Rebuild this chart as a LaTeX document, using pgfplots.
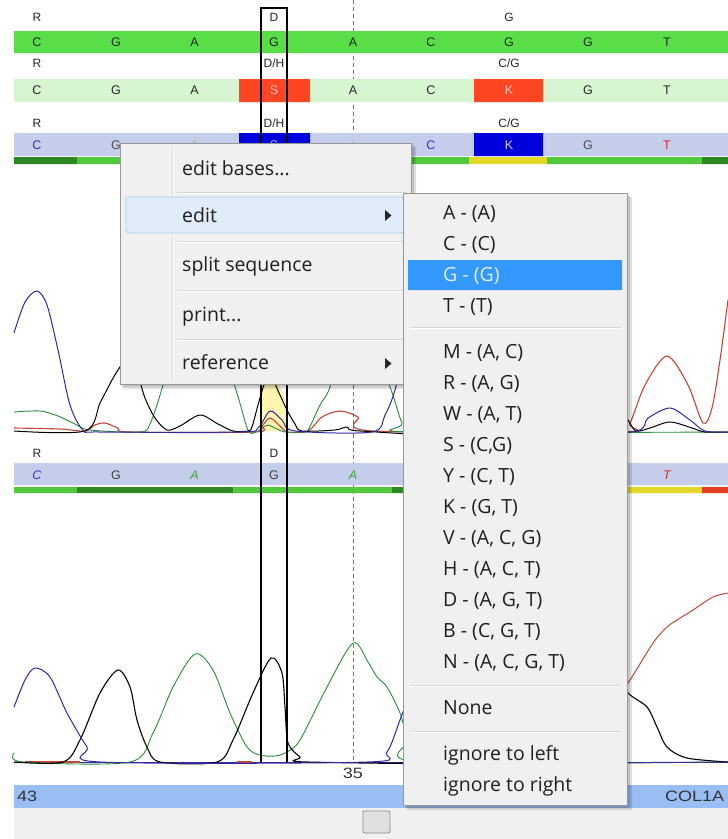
\documentclass[border=0pt]{standalone}
\usepackage{pgfplots}
\pgfplotsset{compat=1.18}
\usepackage{fontspec}
\setmainfont{Open Sans}
\newfontfamily\arial{Liberation Sans}
\newfontfamily\arialw[FakeStretch=1.2]{Liberation Sans}
\definecolor{bgreen}{RGB}{90,222,72}
\definecolor{lgreen}{RGB}{214,245,208}
\definecolor{lav}{RGB}{196,205,234}
\definecolor{redbox}{RGB}{255,70,34}
\definecolor{bluebox}{RGB}{0,0,220}
\definecolor{qdark}{RGB}{45,135,35}
\definecolor{qlight}{RGB}{82,200,60}
\definecolor{qyel}{RGB}{226,216,40}
\definecolor{qred}{RGB}{228,60,30}
\definecolor{barblue}{RGB}{152,190,243}
\definecolor{wingray}{RGB}{240,240,240}
\definecolor{menubg}{RGB}{240,240,240}
\definecolor{menuborder}{RGB}{151,151,151}
\definecolor{sepc}{RGB}{215,215,215}
\definecolor{hilite}{RGB}{51,153,255}
\definecolor{edithl}{RGB}{224,236,250}
\definecolor{edithlb}{RGB}{170,204,240}
\definecolor{trblue}{RGB}{50,40,160}
\definecolor{trgreen}{RGB}{40,140,60}
\definecolor{trred}{RGB}{195,70,60}
\definecolor{hlyel}{RGB}{255,244,176}
\definecolor{txtblue}{RGB}{50,50,200}
\definecolor{txtgreen}{RGB}{60,165,60}
\definecolor{txtred}{RGB}{220,40,40}
\newcommand{\rect}[5]{\addplot[fill=#5,draw=none,forget plot] coordinates {(#1,#2) (#3,#2) (#3,#4) (#1,#4) (#1,#2)};}
\newcommand{\bs}[4]{\node[anchor=base,inner sep=0pt,text=#4,font=\arial\fontsize{12.5}{14}\selectfont] at (axis cs:#1,#2) {#3};}
\newcommand{\bsi}[4]{\node[anchor=base,inner sep=0pt,text=#4,font=\arial\itshape\fontsize{12.5}{14}\selectfont] at (axis cs:#1,#2) {#3};}
\newcommand{\lb}[3]{\node[anchor=base,inner sep=0pt,text=black!85,font=\arial\fontsize{12}{14}\selectfont] at (axis cs:#1,#2) {#3};}
\newcommand{\mi}[4]{\node[anchor=base west,inner sep=0pt,text=#4,font=\fontsize{19.5}{21}\selectfont] at (axis cs:#1,#2) {#3};}
\begin{document}
\begin{tikzpicture}
\begin{axis}[width=728pt,height=839pt,scale only axis,xmin=0,xmax=728,ymin=0,ymax=839,y dir=reverse,hide axis,enlargelimits=false]
% background
\rect{0}{0}{728}{839}{white}
% yellow highlight in box
\addplot[fill=hlyel,draw=none,forget plot] coordinates {(262,160) (278,160) (278,383) (283,395) (287,410) (287,431) (262,431) (262,160)};
% dashed line
\addplot[black!55,line width=0.8pt,dash pattern=on 4pt off 3pt,forget plot] coordinates {(353,0) (353,762)};
% bands
\rect{14}{31}{728}{53}{bgreen}
\rect{14}{79}{728}{102}{lgreen}
\rect{239}{79}{310}{102}{redbox}
\rect{474}{79}{543}{102}{redbox}
\rect{14}{133}{728}{156}{lav}
\rect{239}{133}{310}{156}{bluebox}
\rect{474}{133}{543}{156}{bluebox}
\rect{14}{157}{77}{164}{qdark}
\rect{77}{157}{469}{164}{qlight}
\rect{469}{157}{547}{164}{qyel}
\rect{547}{157}{702}{164}{qlight}
\rect{702}{157}{728}{164}{qdark}
\rect{14}{463}{728}{485}{lav}
\rect{14}{487}{77}{493}{qlight}
\rect{77}{487}{233}{493}{qdark}
\rect{233}{487}{392}{493}{qlight}
\rect{392}{487}{470}{493}{qdark}
\rect{470}{487}{628}{493}{qlight}
\rect{628}{487}{702}{493}{qyel}
\rect{702}{487}{728}{493}{qred}
% ---- middle chromatogram (baseline 432)
\addplot[trred,line width=1.1pt,smooth,tension=0.5] coordinates {(14,428) (60,429) (85,431) (95,425) (105,423) (118,428) (130,432) (255,432) (262,426) (270,418) (280,426) (288,432) (308,431) (322,417) (340,411) (358,417) (373,431) (620,432) (630,423) (645,385) (667,356) (688,385) (703,423) (712,408) (720,360) (728,300)};
\addplot[trgreen,line width=0.9pt,smooth,tension=0.5] coordinates {(14,412) (40,411) (58,416) (75,424) (90,430) (140,432) (150,424) (163,385) (178,325) (194,300) (212,325) (235,387) (248,430) (256,432) (262,428) (268,425) (275,428) (285,432) (300,432) (308,430) (320,405) (330,387) (340,340) (353,315) (368,340) (390,387) (402,423) (412,432) (728,432)};
\addplot[black,line width=1pt,smooth,tension=0.5] coordinates {(14,431) (85,431) (100,403) (112,380) (120,367) (130,355) (138,375) (145,398) (155,418) (167,430) (180,426) (200,415) (218,424) (233,431) (248,431) (252,427) (258,405) (264,385) (270,375) (280,395) (287,410) (295,424) (302,431) (335,430) (347,427) (360,431) (470,432) (490,385) (509,330) (528,385) (548,432) (560,430) (575,385) (588,340) (603,385) (618,405) (628,420) (636,431) (650,428) (670,422) (692,428) (705,432) (728,432)};
\addplot[trblue,line width=1pt,smooth,tension=0.5] coordinates {(14,333) (25,302) (37,291) (47,305) (58,350) (70,405) (83,430) (100,432) (240,432) (258,428) (270,411) (282,420) (295,431) (372,432) (385,415) (395,390) (410,330) (431,295) (452,330) (470,400) (485,430) (500,432) (630,432) (648,418) (670,408) (690,420) (705,431) (728,432)};
% ---- lower chromatogram (baseline 762)
\addplot[trblue,line width=1pt] coordinates {(14,762) (728,762)};
\addplot[trred,line width=1.2pt] coordinates {(25,762) (80,762)};
\addplot[trred,line width=1.2pt] coordinates {(237,762) (252,762)};
\addplot[trgreen,line width=0.9pt,smooth,tension=0.5] coordinates {(14,753) (23,762) (130,762) (153,733) (173,687) (195,654) (213,670) (230,713) (247,747) (260,755) (275,756) (287,752) (300,740) (327,687) (353,643) (368,662) (377,677) (387,687) (400,713) (408,740) (420,762) (728,762)};
\addplot[black,line width=1.1pt,smooth,tension=0.5] coordinates {(14,762) (63,762) (80,740) (100,693) (118,670) (130,687) (137,720) (147,747) (160,762) (217,762) (233,740) (253,693) (271,658) (282,673) (285,707) (288,743) (300,757) (307,762) (500,762) (540,740) (580,680) (605,665) (628,693) (647,707) (657,727) (667,747) (687,758) (728,762)};
\addplot[trblue,line width=1pt,smooth,tension=0.5] coordinates {(14,707) (25,680) (35,668) (50,677) (67,713) (87,747) (100,762) (367,762) (387,752) (400,720) (412,690) (431,668) (452,700) (475,750) (490,762) (728,762)};
\addplot[trred,line width=1pt,smooth,tension=0.5] coordinates {(480,762) (560,740) (610,705) (628,683) (653,643) (667,627) (677,620) (693,610) (713,597) (728,593)};
% box
\addplot[black,line width=1.6pt] coordinates {(261,762) (261,8) (287,8) (287,762)};
% ---- sequence letters
\lb{37}{21.5}{R}\lb{274}{21.5}{D}\lb{509}{21.5}{G}
\bs{37}{46.5}{C}{black!85}\bs{116}{46.5}{G}{black!85}\bs{194.5}{46.5}{A}{black!85}\bs{274}{46.5}{G}{black!85}\bs{353}{46.5}{A}{black!85}\bs{431}{46.5}{C}{black!85}\bs{509}{46.5}{G}{black!85}\bs{588}{46.5}{G}{black!85}\bs{667}{46.5}{T}{black!85}
\lb{37}{67.5}{R}\lb{274}{67.5}{D/H}\lb{509}{67.5}{C/G}
\bs{37}{94.5}{C}{black!85}\bs{116}{94.5}{G}{black!85}\bs{194.5}{94.5}{A}{black!85}\bs{274}{94.5}{S}{red!25}\bs{353}{94.5}{A}{black!85}\bs{431}{94.5}{C}{black!85}\bs{509}{94.5}{K}{red!25}\bs{588}{94.5}{G}{black!85}\bs{667}{94.5}{T}{black!85}
\lb{37}{127}{R}\lb{274}{127}{D/H}\lb{509}{127}{C/G}
\bs{37}{149.5}{C}{txtblue}\bs{116}{149.5}{G}{black!70}\bs{194.5}{149.5}{A}{txtgreen!60}\bs{274}{149.5}{S}{blue!30}\bs{353}{149.5}{A}{txtgreen!50}\bs{431}{149.5}{C}{txtblue}\bs{509}{149.5}{K}{blue!20}\bs{588}{149.5}{G}{black!70}\bs{667}{149.5}{T}{txtred}
\lb{37}{457.5}{R}\lb{274}{457.5}{D}
\bsi{37}{479.5}{C}{txtblue}\bs{116}{479.5}{G}{black!75}\bsi{194.5}{479.5}{A}{txtgreen}\bs{274}{479.5}{G}{black!75}\bsi{353}{479.5}{A}{txtgreen}\bsi{667}{479.5}{T}{txtred}
% ---- bottom
\node[anchor=base,inner sep=0pt,text=black!80,font=\arialw\fontsize{15}{17}\selectfont] at (axis cs:353,778.5) {35};
\rect{14}{785}{728}{808}{barblue}
\rect{14}{808}{728}{839}{wingray}
\node[anchor=base west,inner sep=0pt,text=black!80,font=\arialw\fontsize{15}{17}\selectfont] at (axis cs:17,801.5) {43};
\node[anchor=base west,inner sep=0pt,text=black!80,font=\arialw\fontsize{15}{17}\selectfont] at (axis cs:665,801.5) {COL1A};
\addplot[fill=black!12,draw=black!45,line width=0.8pt,rounded corners=2pt] coordinates {(363,811) (390,811) (390,833) (363,833) (363,811)};
% ---- main context menu
\addplot[fill=black,fill opacity=0.12,draw=none] coordinates {(123,147) (416,147) (416,389) (123,389) (123,147)};
\addplot[fill=black,fill opacity=0.12,draw=none] coordinates {(122,145) (414,145) (414,387) (122,387) (122,145)};
\addplot[fill=menubg,draw=menuborder,line width=0.9pt] coordinates {(120,143) (411,143) (411,384) (120,384) (120,143)};
\addplot[color=black!12,line width=0.9pt] coordinates {(172.5,146) (172.5,381)};
\addplot[color=white,line width=0.9pt] coordinates {(173.5,146) (173.5,381)};
\addplot[fill=edithl,draw=edithlb,line width=0.8pt,rounded corners=3pt] coordinates {(126,197) (404,197) (404,233) (126,233) (126,197)};
\addplot[color=sepc,line width=0.9pt] coordinates {(177,192) (407,192)};
\addplot[color=white,line width=0.9pt] coordinates {(177,193) (407,193)};
\addplot[color=sepc,line width=0.9pt] coordinates {(177,241) (407,241)};
\addplot[color=white,line width=0.9pt] coordinates {(177,242) (407,242)};
\addplot[color=sepc,line width=0.9pt] coordinates {(177,290) (407,290)};
\addplot[color=white,line width=0.9pt] coordinates {(177,291) (407,291)};
\addplot[color=sepc,line width=0.9pt] coordinates {(177,339) (407,339)};
\addplot[color=white,line width=0.9pt] coordinates {(177,340) (407,340)};
\addplot[fill=black!85,draw=none] coordinates {(385,210) (391.5,215.5) (385,221) (385,210)};
\addplot[fill=black!85,draw=none] coordinates {(385,358) (391.5,363.5) (385,369) (385,358)};
\mi{182}{175.5}{edit bases...}{black!88}
\mi{182}{222}{edit}{black!88}
\mi{182}{271}{split sequence}{black!88}
\mi{182}{321}{print...}{black!88}
\mi{182}{369}{reference}{black!88}
% ---- submenu
\addplot[fill=black,fill opacity=0.12,draw=none] coordinates {(407,197) (632,197) (632,810) (407,810) (407,197)};
\addplot[fill=black,fill opacity=0.12,draw=none] coordinates {(405,195) (630,195) (630,808) (405,808) (405,195)};
\addplot[fill=menubg,draw=menuborder,line width=0.9pt] coordinates {(403,193) (627,193) (627,805) (403,805) (403,193)};
\rect{408}{260}{622}{290}{hilite}
\addplot[color=sepc,line width=0.9pt] coordinates {(410,327) (621,327)};
\addplot[color=white,line width=0.9pt] coordinates {(410,328) (621,328)};
\addplot[color=sepc,line width=0.9pt] coordinates {(410,685) (621,685)};
\addplot[color=white,line width=0.9pt] coordinates {(410,686) (621,686)};
\addplot[color=sepc,line width=0.9pt] coordinates {(410,731) (621,731)};
\addplot[color=white,line width=0.9pt] coordinates {(410,732) (621,732)};
\mi{443}{219}{A - (A)}{black!88}
\mi{443}{250}{C - (C)}{black!88}
\mi{443}{281}{G - (G)}{blue!8}
\mi{443}{312}{T - (T)}{black!88}
\mi{443}{358}{M - (A, C)}{black!88}
\mi{443}{389}{R - (A, G)}{black!88}
\mi{443}{420}{W - (A, T)}{black!88}
\mi{443}{451}{S - (C,G)}{black!88}
\mi{443}{482}{Y - (C, T)}{black!88}
\mi{443}{513}{K - (G, T)}{black!88}
\mi{443}{544}{V - (A, C, G)}{black!88}
\mi{443}{575}{H - (A, C, T)}{black!88}
\mi{443}{606}{D - (A, G, T)}{black!88}
\mi{443}{637}{B - (C, G, T)}{black!88}
\mi{443}{668}{N - (A, C, G, T)}{black!88}
\mi{443}{714}{None}{black!88}
\mi{443}{760}{ignore to left}{black!88}
\mi{443}{791}{ignore to right}{black!88}
\end{axis}
\pgfresetboundingbox
\useasboundingbox (current axis.south west) rectangle (current axis.north east);
\end{tikzpicture}
\end{document}
